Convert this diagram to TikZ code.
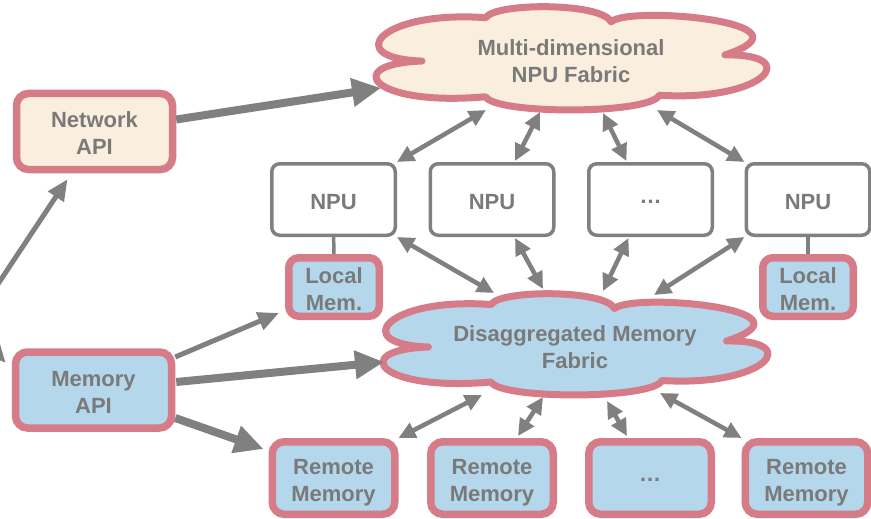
\documentclass[tikz,border=0pt]{standalone}
\usepackage{fontspec}
\setmainfont{Liberation Sans}
\usetikzlibrary{arrows.meta,calc}
\definecolor{pinkb}{RGB}{214,124,137}
\definecolor{creamf}{RGB}{250,239,222}
\definecolor{bluef}{RGB}{180,215,236}
\definecolor{graya}{RGB}{128,128,128}
\definecolor{grayt}{RGB}{122,122,122}
\newcommand\mycloudoutline[5]{%
  \begin{scope}[shift={(#1,#2)}, x=#3pt, y=#4pt]
    \draw[draw=pinkb, line width=7pt, fill=#5, line join=round]
      (-0.78,-0.05) .. controls (-1.2,0.0) and (-1.0,0.95) .. (-0.45,0.8)
      .. controls (-0.4,1.1) and (0.15,1.1) .. (0.2,0.72)
      .. controls (0.3,1.05) and (1.3,0.7) .. (0.79,0.07)
      .. controls (1.2,0.1) and (1.0,-0.85) .. (0.45,-0.72)
      .. controls (0.4,-1.1) and (-0.4,-1.1) .. (-0.45,-0.75)
      .. controls (-1.05,-0.95) and (-1.2,-0.1) .. cycle;
  \end{scope}}
\tikzset{
  lbl/.style={font=\fontsize{22}{27}\selectfont\bfseries, text=grayt, align=center},
  boxlbl/.style={lbl, text depth=0pt, yshift=-2pt},
  pinkbox/.style={lbl, draw=pinkb, line width=7.5pt, rounded corners=12pt, inner sep=0pt},
  apibox/.style={pinkbox, fill=creamf, minimum width=156pt, minimum height=76pt},
  memapibox/.style={pinkbox, fill=bluef, minimum width=156pt, minimum height=76pt},
  npubox/.style={lbl, draw=graya, line width=3.5pt, rounded corners=8pt, fill=white, minimum width=123.5pt, minimum height=71.5pt, inner sep=0pt},
  localbox/.style={pinkbox, fill=bluef, minimum width=90.5pt, minimum height=58.5pt, rounded corners=10pt},
  remotebox/.style={pinkbox, fill=bluef, minimum width=122.5pt, minimum height=72.5pt},
  bigarrow/.style={draw=graya, line width=8pt, -{Triangle[length=29pt,width=27pt]}},
  midarrow/.style={draw=graya, line width=5pt, -{Triangle[length=21pt,width=18pt]}},
  dblarrow/.style={draw=graya, line width=4.5pt, {Triangle[length=17pt,width=16pt]}-{Triangle[length=17pt,width=16pt]}},
  link/.style={draw=graya, line width=3.5pt}
}
\begin{document}
\begin{tikzpicture}[x=1pt,y=-1pt]
\fill[white] (0,0) rectangle (871,519);
\useasboundingbox (0,0) rectangle (871,519);

% clouds
\mycloudoutline{572.5}{58.5}{193}{51}{creamf}
\mycloudoutline{576.5}{344.5}{190}{50}{bluef}
\node[lbl] (topc) at (571,61) {Multi-dimensional\\NPU Fabric};
\node[lbl] (botc) at (575,347) {Disaggregated Memory\\Fabric};

% points on cloud outlines
\coordinate (tcin) at (381,88);
\coordinate (tc1) at (486,110);
\coordinate (tc2) at (540,112);
\coordinate (tc3) at (603,113);
\coordinate (tc4) at (657,110);
\coordinate (bcin) at (384,362);
\coordinate (bc1) at (494,293);
\coordinate (bc2) at (543,289);
\coordinate (bc3) at (603,291);
\coordinate (bc4) at (654,295);
\coordinate (bc5) at (482,395);
\coordinate (bc6) at (543,397);
\coordinate (bc7) at (607,401);
\coordinate (bc8) at (660,393);

% API boxes
\node[apibox] (netapi) at (94.5,131.5) {};
\node[boxlbl] (netapilbl) at (netapi) {Network\\API};
\node[memapibox] (memapi) at (93.5,390) {};
\node[boxlbl] (memapilbl) at (memapi) {Memory\\API};

% NPUs
\node[npubox] (npu1) at (333.5,199.5) {};
\node[npubox] (npu2) at (492,199.5) {};
\node[npubox] (npu3) at (650.5,199.5) {};
\node[npubox] (npu4) at (808,199.5) {};
\node[boxlbl] (npu1lbl) at (npu1) {NPU};
\node[boxlbl] (npu2lbl) at (npu2) {NPU};
\node[boxlbl] (npu3lbl) at (npu3) {…};
\node[boxlbl] (npu4lbl) at (npu4) {NPU};

% local memories
\node[localbox] (lm1) at (334,287) {};
\node[localbox] (lm2) at (808,287) {};
\node[boxlbl] (lm1lbl) at (lm1) {Local\\Mem.};
\node[boxlbl] (lm2lbl) at (lm2) {Local\\Mem.};
\draw[link] (npu1) -- (lm1);
\draw[link] (npu4) -- (lm2);

% remote memories
\node[remotebox] (rm1) at (333.5,478) {};
\node[remotebox] (rm2) at (492,478) {};
\node[remotebox] (rm3) at (650,478) {};
\node[remotebox] (rm4) at (806.5,478) {};
\node[boxlbl] (rm1lbl) at (rm1) {Remote\\Memory};
\node[boxlbl] (rm2lbl) at (rm2) {Remote\\Memory};
\node[boxlbl] (rm3lbl) at (rm3) {…};
\node[boxlbl] (rm4lbl) at (rm4) {Remote\\Memory};

% free ends off the left edge
\coordinate (offa) at (-12,299);
\coordinate (offb) at (-40,312);

% API arrows
\draw[bigarrow] ($(netapi.east)+(0,-12)$) -- (tcin);
\draw[midarrow] (offa) -- ($(netapi.south)+(-27,6)$);
\draw[midarrow] (offb) -- ($(memapi.west)+(-6,-27)$);
\draw[midarrow] ($(memapi.east)+(0,-33)$) -- ($(lm1.south west)+(-6,-7)$);
\draw[bigarrow] ($(memapi.east)+(1,-8)$) -- (bcin);
\draw[bigarrow] ($(memapi.east)+(0,28)$) -- ($(rm1.north west)+(-5,11)$);

% NPU fabric links
\draw[dblarrow] (tc1) -- (npu1.north east);
\draw[dblarrow] (tc2) -- ($(npu2.north)+(23,-1)$);
\draw[dblarrow] (tc3) -- ($(npu3.north)+(-24,-1)$);
\draw[dblarrow] (tc4) -- (npu4.north west);

% NPU to memory fabric
\draw[dblarrow] (npu1.south east) -- (bc1);
\draw[dblarrow] ($(npu2.south)+(23,1)$) -- (bc2);
\draw[dblarrow] ($(npu3.south)+(-22,1)$) -- (bc3);
\draw[dblarrow] (npu4.south west) -- (bc4);

% memory fabric to remote
\draw[dblarrow] (bc5) -- (rm1.north east);
\draw[dblarrow] (bc6) -- ($(rm2.north)+(26,-2)$);
\draw[dblarrow] (bc7) -- ($(rm3.north)+(-23,-2)$);
\draw[dblarrow] (bc8) -- (rm4.north west);
\end{tikzpicture}
\end{document}
